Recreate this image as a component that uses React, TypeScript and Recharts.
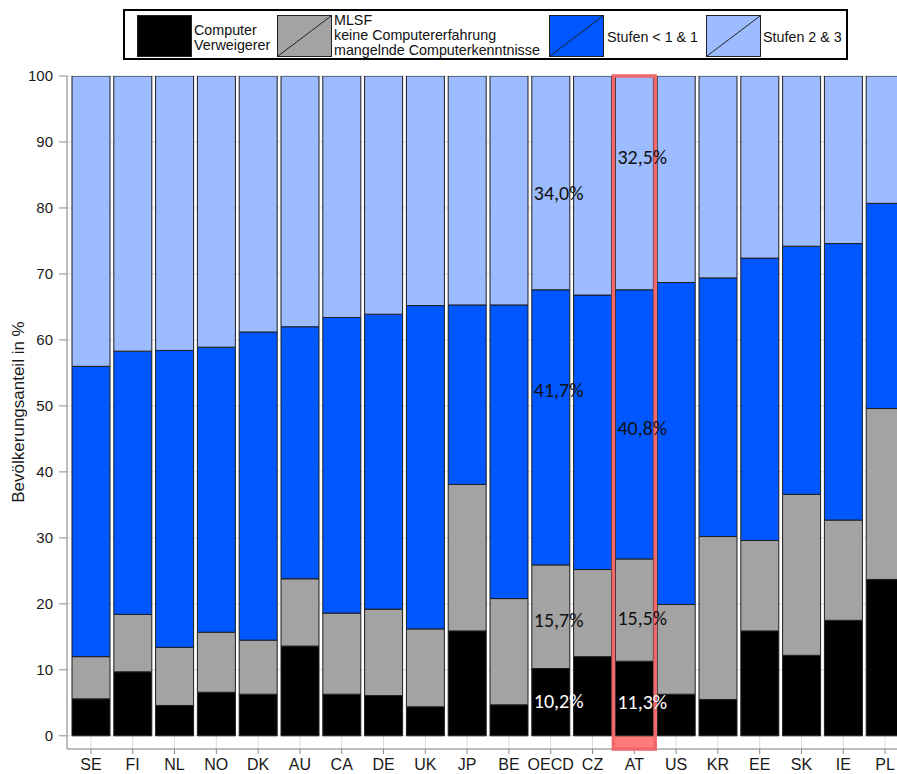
import React from 'react';
import { BarChart, Bar, XAxis, YAxis, CartesianGrid, ReferenceArea, LabelList } from 'recharts';

const countries = ['SE', 'FI', 'NL', 'NO', 'DK', 'AU', 'CA', 'DE', 'UK', 'JP', 'BE', 'OECD', 'CZ', 'AT', 'US', 'KR', 'EE', 'SK', 'IE', 'PL'];
const verweigerer = [5.6, 9.7, 4.6, 6.6, 6.3, 13.6, 6.3, 6.1, 4.4, 15.9, 4.7, 10.2, 12.0, 11.3, 6.3, 5.5, 15.9, 12.2, 17.5, 23.7];
const mlsf = [6.4, 8.7, 8.8, 9.1, 8.2, 10.2, 12.3, 13.1, 11.8, 22.2, 16.1, 15.7, 13.2, 15.5, 13.6, 24.7, 13.7, 24.4, 15.2, 25.9];
const stufen1 = [44.0, 39.9, 45.0, 43.2, 46.7, 38.2, 44.8, 44.7, 49.0, 27.2, 44.5, 41.7, 41.6, 40.8, 48.8, 39.2, 42.8, 37.6, 41.9, 31.1];
const stufen23 = [44.0, 41.7, 41.6, 41.1, 38.8, 38.0, 36.6, 36.1, 34.8, 34.7, 34.7, 32.4, 33.2, 32.4, 31.3, 30.6, 27.6, 25.8, 25.4, 19.3];
const yTicks = [0, 10, 20, 30, 40, 50, 60, 70, 80, 90, 100];

const oecdLabels = ['10,2%', '15,7%', '41,7%', '34,0%'];
const atLabels = ['11,3%', '15,5%', '40,8%', '32,5%'];
const highlighted = 'AT';

const seriesKeys = ['verweigerer', 'mlsf', 'stufen1', 'stufen23'];
const seriesColors = ['#000000', '#a3a3a3', '#0057ff', '#9cbcff'];
const legendLines = [['Computer', 'Verweigerer'], ['MLSF', 'keine Computererfahrung', 'mangelnde Computerkenntnisse'], ['Stufen < 1 & 1'], ['Stufen 2 & 3']];

const data = countries.map((c, i) => ({
  name: c,
  verweigerer: verweigerer[i],
  mlsf: mlsf[i],
  stufen1: stufen1[i],
  stufen23: stufen23[i],
}));

const annotations: Record<string, string[]> = { OECD: oecdLabels, AT: atLabels };
const labelShift: Record<string, number[]> = { OECD: [-1, 3, -37, 10], AT: [3, 8, 4, -26] };

const makeLabel = (si: number) => (props: any) => {
  const idx = props.index;
  const name = countries[idx];
  const texts = annotations[name];
  if (!texts) return null;
  const vb = props.viewBox || props;
  const x = Number(vb.x ?? props.x);
  const y = Number(vb.y ?? props.y);
  const h = Number(vb.height ?? props.height);
  const cy = y + h / 2 + labelShift[name][si];
  return (
    <text
      key={`lab-${si}-${idx}`}
      x={x + 2}
      y={cy}
      dominantBaseline="central"
      textAnchor="start"
      fontFamily="Carlito, Lato, 'Open Sans', sans-serif"
      fontSize={20}
      fill={si === 0 ? '#ffffff' : '#111111'}
    >
      {texts[si]}
    </text>
  );
};

const LegendSwatch = ({ color, diag }: { color: string; diag: boolean }) => (
  <svg width={55} height={42} style={{ display: 'block' }}>
    <rect x={0.5} y={0.5} width={54} height={41} fill={color} stroke="#222" strokeWidth={1} />
    {diag && <line x1={1} y1={41} x2={54} y2={1} stroke="#222" strokeWidth={1} />}
  </svg>
);

const legendPos = [
  { sx: 137, tx: 194, ty: 23 },
  { sx: 277, tx: 334, ty: 13 },
  { sx: 549, tx: 607, ty: 29.5 },
  { sx: 706, tx: 763, ty: 29.5 },
];

export default function App() {
  return (
    <div
      style={{
        position: 'absolute',
        left: 0,
        top: 0,
        width: 897,
        height: 774,
        overflow: 'hidden',
        background: '#ffffff',
        fontFamily: "'Liberation Sans', Arial, sans-serif",
      }}
    >
      <div
        style={{
          position: 'absolute',
          left: 123,
          top: 9,
          width: 725,
          height: 51,
          border: '2px solid #000',
          boxSizing: 'border-box',
        }}
      />
      {legendPos.map((p, i) => (
        <React.Fragment key={i}>
          <div style={{ position: 'absolute', left: p.sx, top: 15 }}>
            <LegendSwatch color={seriesColors[i]} diag={i > 0} />
          </div>
          <div
            style={{
              position: 'absolute',
              left: p.tx,
              top: p.ty,
              fontSize: 14.3,
              lineHeight: '15px',
              color: '#111',
              whiteSpace: 'nowrap',
            }}
          >
            {legendLines[i].map((l, j) => (
              <div key={j}>{l}</div>
            ))}
          </div>
        </React.Fragment>
      ))}
      <div style={{ position: 'absolute', left: 0, top: 0 }}>
        <BarChart
          width={906}
          height={774}
          data={data}
          margin={{ top: 76, right: 0, left: 0, bottom: 0 }}
          barCategoryGap={2}
        >
          <CartesianGrid stroke="#dcdcdc" strokeWidth={1} />
          <XAxis
            dataKey="name"
            height={25}
            padding={{ left: 3, right: 0 }}
            interval={0}
            tickSize={5}
            tickMargin={5}
            axisLine={{ stroke: '#8c8c8c' }}
            tickLine={{ stroke: '#8c8c8c' }}
            tick={{ fill: '#1a1a1a', fontSize: 16, fontFamily: "'Liberation Sans', Arial, sans-serif" }}
          />
          <YAxis
            width={67}
            domain={[-2, 100]}
            ticks={yTicks}
            allowDataOverflow
            tickSize={8}
            tickMargin={6}
            axisLine={{ stroke: '#8c8c8c' }}
            tickLine={{ stroke: '#8c8c8c' }}
            tick={{ fill: '#1a1a1a', fontSize: 15, fontFamily: "'Liberation Sans', Arial, sans-serif" }}
            label={(props: any) => (
              <text
                x={18}
                y={412}
                transform="rotate(-90, 18, 412)"
                textAnchor="middle"
                dominantBaseline="central"
                fontSize={17}
                fill="#1a1a1a"
                fontFamily="'Liberation Sans', Arial, sans-serif"
              >
                Bevölkerungsanteil in %
              </text>
            )}
          />
          <ReferenceArea
            x1={highlighted}
            x2={highlighted}
            y1={-2}
            y2={0}
            fill="#ff7b7b"
            fillOpacity={1}
            stroke="none"
            ifOverflow="visible"
          />
          {seriesKeys.map((k, si) => (
            <Bar
              key={k}
              dataKey={k}
              stackId="a"
              fill={seriesColors[si]}
              stroke="#1e1e1e"
              strokeWidth={1}
              isAnimationActive={false}
            >
              <LabelList dataKey={k} content={makeLabel(si)} />
            </Bar>
          ))}
          <ReferenceArea
            x1={highlighted}
            x2={highlighted}
            y1={-2}
            y2={100}
            fill="none"
            fillOpacity={0}
            stroke="#f0686b"
            strokeWidth={3.5}
            ifOverflow="visible"
            zIndex={1000}
          />
        </BarChart>
      </div>
    </div>
  );
}
